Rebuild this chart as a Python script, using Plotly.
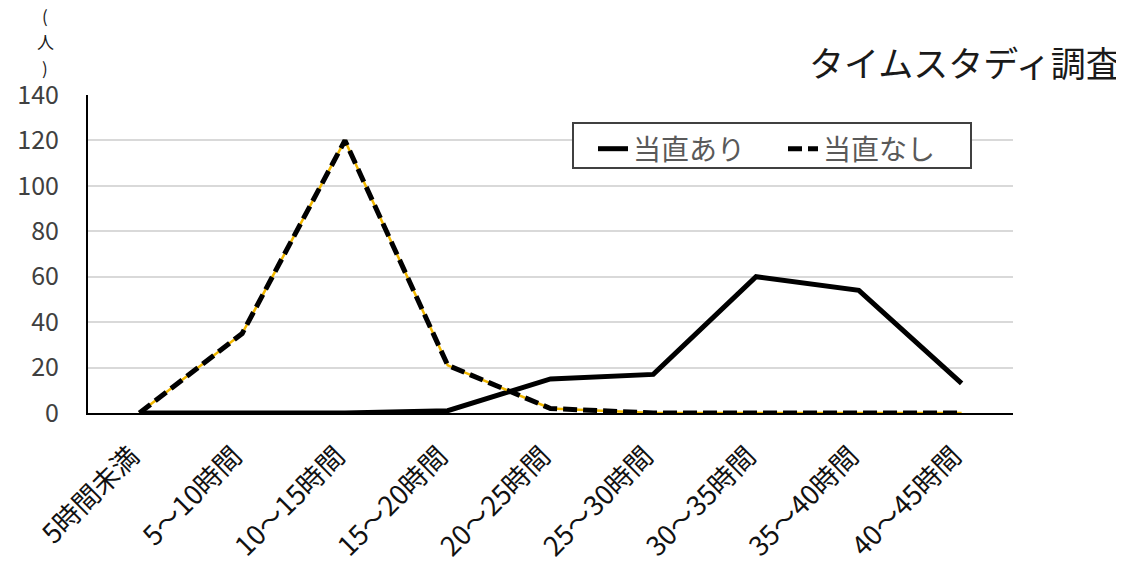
import plotly.graph_objects as go

# data
categories = ["5時間未満", "5～10時間", "10～15時間", "15～20時間", "20～25時間",
              "25～30時間", "30～35時間", "35～40時間", "40～45時間"]
touchoku_ari = [0, 0, 0, 1, 15, 17, 60, 54, 13]
touchoku_nashi = [0, 35, 120, 21, 2, 0, 0, 0, 0]

FONT = "Noto Sans CJK JP, Noto Sans, sans-serif"

# page body has an 8px margin, so work in figure pixels (= screen - 8)
W, H = 1116, 566
L, T, PW, PH = 80, 87, 925, 318

fig = go.Figure()

fig.add_trace(go.Scatter(
    x=categories, y=touchoku_ari, mode="lines", name="当直あり",
    line=dict(color="black", width=5),
))
# yellow line under the dashed one
fig.add_trace(go.Scatter(
    x=categories, y=touchoku_nashi, mode="lines", showlegend=False,
    line=dict(color="#f2b800", width=2.5), hoverinfo="skip",
))
fig.add_trace(go.Scatter(
    x=categories, y=touchoku_nashi, mode="lines", name="当直なし",
    line=dict(color="black", width=5, dash="14px,6px"),
))


def px_x(x):
    return (x - L) / PW


def px_y(y):
    return (T + PH - y) / PH


annotations = [
    dict(text="タイムスタディ調査", x=px_x(1115), y=px_y(54), xanchor="right",
         yanchor="middle", font=dict(size=35, color="#1a1a1a")),
]
# vertical "(人)" unit label, one character per line
for ch, yy in zip(["(", "人", ")"], [7, 33, 59]):
    annotations.append(dict(text=ch, x=px_x(37), y=px_y(yy), xanchor="center",
                            yanchor="middle", borderpad=0,
                            font=dict(size=17, color="#1a1a1a")))
for a in annotations:
    a.update(xref="paper", yref="paper", showarrow=False)

# legend frame drawn as a shape so the padding matches
legend_box = dict(
    type="rect", xref="paper", yref="paper",
    x0=px_x(565), x1=px_x(963), y0=px_y(160), y1=px_y(115),
    line=dict(color="#404040", width=2), fillcolor="white", layer="above",
)

fig.update_layout(
    width=W, height=H,
    margin=dict(l=L, r=W - L - PW, t=T, b=H - T - PH, autoexpand=False),
    paper_bgcolor="white", plot_bgcolor="white",
    font=dict(family=FONT, size=24, color="#404040"),
    showlegend=True,
    legend=dict(
        orientation="h", x=px_x(585), y=px_y(116), xanchor="left", yanchor="top",
        borderwidth=0, bgcolor="rgba(0,0,0,0)",
        font=dict(size=28, color="#595959"),
        entrywidth=145, entrywidthmode="pixels",
    ),
    shapes=[legend_box],
    annotations=annotations,
)

fig.update_xaxes(
    type="category", showgrid=False, showline=True, linecolor="black", linewidth=1.5,
    ticks="", tickangle=-45, tickfont=dict(size=27, color="#111111"),
    ticklabelstandoff=15, ticklabelshift=-8,
    range=[-0.5, len(categories) - 0.5], automargin=False,
)
fig.update_yaxes(
    range=[0, 140], dtick=20, showgrid=True, gridcolor="#d9d9d9", gridwidth=1.5,
    showline=True, linecolor="black", linewidth=2, ticks="", zeroline=False,
    tickfont=dict(size=25, color="#404040"), ticklabelstandoff=22, automargin=False,
)

fig.write_html("out.html")
